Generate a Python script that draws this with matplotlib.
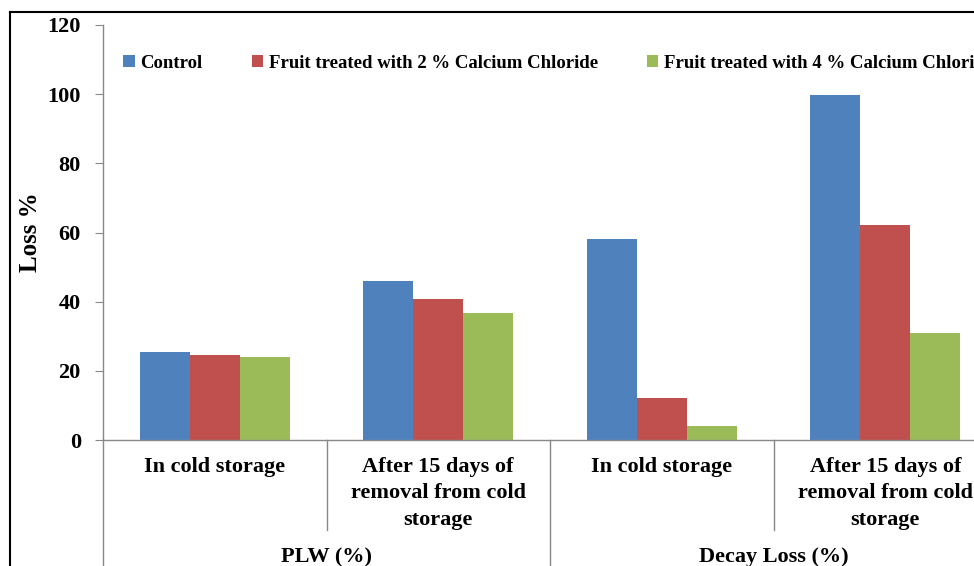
import numpy as np
import matplotlib.pyplot as plt
from matplotlib.lines import Line2D
from matplotlib.transforms import blended_transform_factory

# data
categories = ['In cold storage', 'After 15 days of\nremoval from cold\nstorage',
              'In cold storage', 'After 15 days of\nremoval from cold\nstorage']
groups = ['PLW (%)', 'Decay Loss (%)']
series_names = ['Control', 'Fruit treated with 2 % Calcium Chloride',
                'Fruit treated with 4 % Calcium Chloride']
control = [25.4, 46.0, 58.1, 99.8]
calcium_2 = [24.7, 40.8, 12.1, 62.2]
calcium_4 = [23.9, 36.8, 4.0, 30.9]
yticks = [0, 20, 40, 60, 80, 100, 120]

colors = ['#4F81BD', '#C0504D', '#9BBB59']
font = 'Liberation Serif'
plt.rcParams['font.family'] = font
plt.rcParams['font.weight'] = 'bold'

W, H = 974, 566
fig = plt.figure(figsize=(W / 100, H / 100), dpi=100)
# plot area runs off the right edge like the original screenshot
ax = fig.add_axes([103 / W, (H - 440) / H, (997 - 103) / W, (440 - 25) / H])

x = np.arange(len(categories))
bw = 50 / 223.5
for i, (vals, c, name) in enumerate(zip([control, calcium_2, calcium_4], colors, series_names)):
    ax.bar(x + (i - 1) * bw, vals, bw, color=c, label=name)

ax.set_xlim(-0.5, len(categories) - 0.5)
ax.set_ylim(0, 120)
ax.set_yticks(yticks)
ax.set_yticklabels([str(t) for t in yticks], fontsize=16, fontweight='bold')
ax.tick_params(axis='y', direction='out', length=6, color='#888888', pad=10)
ax.set_xticks([])
for s in ['top', 'right']:
    ax.spines[s].set_visible(False)
ax.spines['left'].set_color('#888888')
ax.spines['bottom'].set_color('#888888')
ax.spines['bottom'].set_linewidth(1.0)
ax.spines['left'].set_linewidth(1.0)

ax.set_ylabel('Loss %', fontsize=18, fontweight='bold', labelpad=0)
ax.yaxis.set_label_coords((42 - 103) / 894, 0.5)

# category and group labels below the axis
trans = blended_transform_factory(ax.transData, ax.transAxes)
px = 1 / 415  # one pixel in axes y units
for i, lab in enumerate(categories):
    ax.text(x[i], -17 * px, lab, transform=trans, ha='center', va='top',
            fontsize=16, fontweight='bold', linespacing=1.42)
for j, g in enumerate(groups):
    ax.text(2 * j + 0.5, -117 * px, g, transform=trans, ha='center', va='center',
            fontsize=16, fontweight='bold')

# separators
for xs in [0.5, 2.5]:
    ax.add_line(Line2D([xs, xs], [0, -90 * px], transform=trans, color='#888888',
                       lw=1.0, clip_on=False))
for xs in [-0.5, 1.5]:
    ax.add_line(Line2D([xs, xs], [0, -140 * px], transform=trans, color='#888888',
                       lw=1.0, clip_on=False))

# legend (last entry runs off the right edge, as in the original)
ax.legend(loc='upper left', bbox_to_anchor=((115 - 22) / 894 - 0.1, 1.0 - 38 / 415 + 0.01 + 21 / 415),
          ncol=3, frameon=False, handlelength=0.6, handleheight=0.6,
          handletextpad=0.3, columnspacing=2.63,
          prop={'family': font, 'weight': 'bold', 'size': 13.5})

# outer chart border
fig.add_artist(Line2D([10 / W, 10 / W], [0, 1 - 12 / H], color='black', lw=1.5))
fig.add_artist(Line2D([10 / W, 1], [1 - 12 / H, 1 - 12 / H], color='black', lw=1.5))

fig.savefig('out.png', dpi=100)
